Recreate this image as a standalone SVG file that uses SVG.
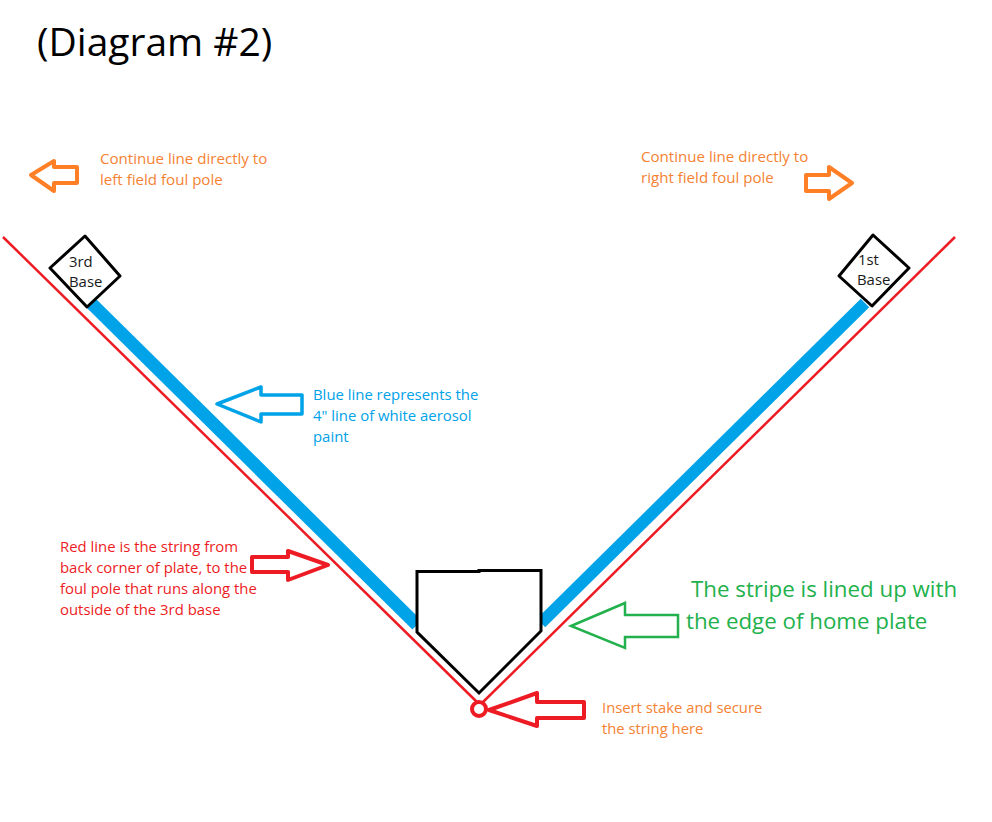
<svg xmlns="http://www.w3.org/2000/svg" width="992" height="822" viewBox="0 0 992 822">
<style>
text{font-family:"Open Sans","Noto Sans",sans-serif}
.o{font-size:15.1px;fill:#f58233}
.s{font-size:14.8px;fill:#f58233}
.b{font-size:14.9px;fill:#00a2e8}
.r{font-size:14.9px;fill:#ed1c24}
.g{font-size:22.3px;fill:#22b14c}
.k{font-size:14.9px;fill:#1a1a1a}
.base{fill:#fff;stroke:#000;stroke-width:3;stroke-linejoin:round}
.ao{fill:#fff;stroke:#ff7f27;stroke-width:4;stroke-linejoin:round}
.ar{fill:#fff;stroke:#ed1c24;stroke-width:4;stroke-linejoin:round}
</style>
<rect width="992" height="822" fill="#fff"/>
<text x="37" y="56" font-size="39" fill="#000">(Diagram #2)</text>
<g id="connectors" fill="none">
<line x1="91" y1="303" x2="417" y2="625" stroke="#00a2e8" stroke-width="13"/>
<line x1="865" y1="303" x2="541" y2="623" stroke="#00a2e8" stroke-width="12"/>
<line x1="3" y1="237" x2="479" y2="704" stroke="#ed1c24" stroke-width="2.5"/>
<line x1="955" y1="237" x2="482" y2="703" stroke="#ed1c24" stroke-width="2.5"/>
</g>
<g id="third-base"><polygon class="base" points="85,236 120,276 87,307 50,268"/><text class="k" x="69" y="267">3rd</text><text class="k" x="69" y="287">Base</text></g>
<g id="first-base"><polygon class="base" points="873,235 909,268 872,306 839,276"/><text class="k" x="858" y="265">1st</text><text class="k" x="857" y="285">Base</text></g>
<g id="home-plate"><polygon points="417,571.5 479,571.5 479,570.5 541,570.5 541,631 479,693 417,632" fill="#fff" stroke="#000" stroke-width="3"/></g>
<g id="stake"><circle cx="479" cy="709" r="7" fill="#fff" stroke="#ed1c24" stroke-width="4"/></g>
<g id="arrow-left-orange"><polygon class="ao" points="31,175 54,161 54,167 77,167 77,183 54,183 54,191"/></g>
<g id="arrow-right-orange"><polygon class="ao" points="852,183 829,167 829,175 806,175 806,191 829,191 829,199"/></g>
<g id="arrow-blue"><polygon points="217,404 261,387 261,395 302,395 302,414 261,414 261,422" fill="#fff" stroke="#00a2e8" stroke-width="3.5" stroke-linejoin="round"/></g>
<g id="arrow-red-string"><polygon class="ar" points="328,565 288,551 288,557 252,557 252,572 288,572 288,580"/></g>
<g id="arrow-green"><polygon points="571,626 625,603 625,615 678,615 678,637 625,637 625,648" fill="#fff" stroke="#22b14c" stroke-width="2.5"/></g>
<g id="arrow-red-stake"><polygon class="ar" points="489,710 537,693 537,702 584,702 584,718 537,718 537,726"/></g>
<g id="label-left"><text class="o" x="100" y="164">Continue line directly to</text><text class="o" x="100" y="185">left field foul pole</text></g>
<g id="label-right"><text class="o" x="641" y="162">Continue line directly to</text><text class="o" x="641" y="183">right field foul pole</text></g>
<g id="label-blue"><text class="b" x="313" y="400">Blue line represents the</text><text class="b" x="313" y="421">4" line of white aerosol</text><text class="b" x="313" y="442">paint</text></g>
<g id="label-red"><text class="r" x="60" y="552">Red line is the string from</text><text class="r" x="60" y="573">back corner of plate, to the</text><text class="r" x="60" y="594">foul pole that runs along the</text><text class="r" x="60" y="615">outside of the 3rd base</text></g>
<g id="label-green"><text class="g" x="691" y="597">The stripe is lined up with</text><text class="g" x="686" y="629">the edge of home plate</text></g>
<g id="label-stake"><text class="s" x="602" y="713">Insert stake and secure</text><text class="s" x="602" y="734">the string here</text></g>
</svg>
